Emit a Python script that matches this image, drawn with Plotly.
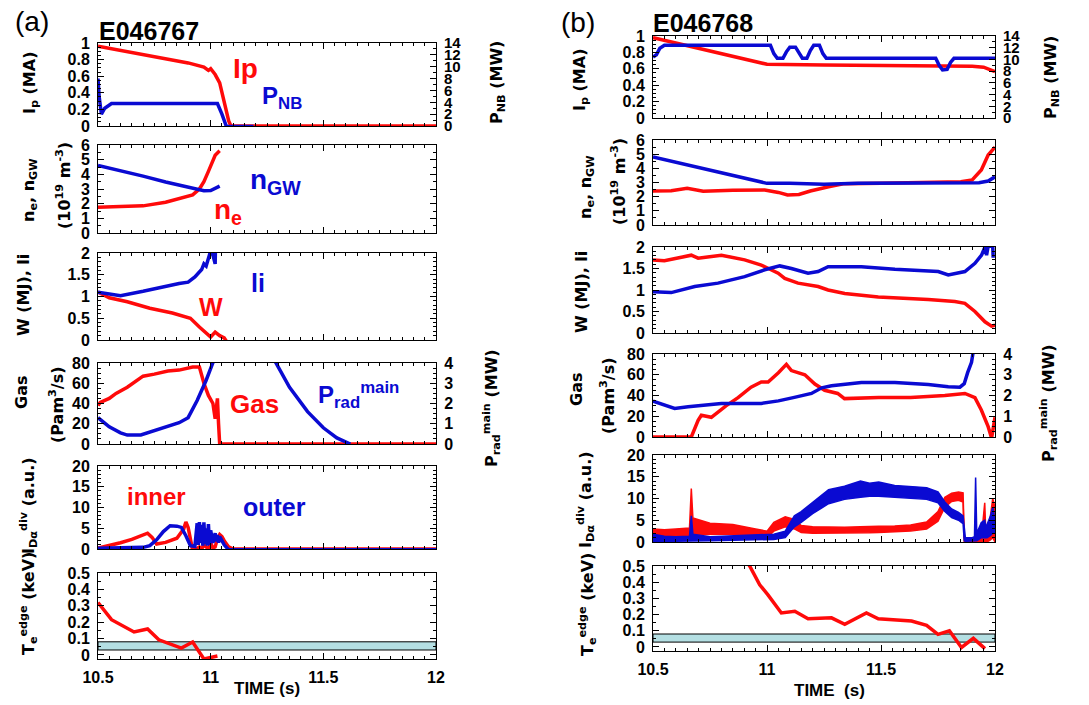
import plotly.graph_objects as go

W, H = 1089, 705
RED = "#ff0a0a"
BLUE = "#0a0ad2"
BAND = "#b4dfe3"
SANS = "Liberation Sans, Arial, sans-serif"
WIDE = "DejaVu Sans, sans-serif"

# ---------------- shot E046767 ----------------
t_ip_a = [10.5, 10.7, 10.9, 10.97, 10.99, 11.0, 11.01, 11.02, 11.04, 11.06, 11.08, 11.09, 12.0]
ip_a = [0.96, 0.86, 0.76, 0.71, 0.67, 0.69, 0.65, 0.62, 0.52, 0.28, 0.06, 0.0, 0.0]
t_pnb_a = [10.5, 10.505, 10.515, 10.53, 10.56, 11.03, 11.05, 11.07, 11.19]
pnb_a = [8.0, 5.0, 2.0, 3.0, 3.8, 3.8, 2.0, -0.1, -0.1]

t_ngw_a = [10.5, 10.6, 10.7, 10.8, 10.9, 10.95, 10.97, 11.0, 11.02, 11.04]
ngw_a = [4.6, 4.25, 3.88, 3.48, 3.1, 2.95, 2.88, 2.9, 3.05, 3.2]
t_ne_a = [10.5, 10.6, 10.7, 10.8, 10.86, 10.92, 10.95, 10.97, 10.99, 11.01, 11.02, 11.04]
ne_a = [1.75, 1.78, 1.85, 2.1, 2.35, 2.6, 3.0, 3.5, 4.2, 4.9, 5.3, 5.6]

t_li_a = [10.5, 10.6, 10.7, 10.8, 10.86, 10.9, 10.93, 10.96, 10.97, 10.98, 10.99, 11.0,
          11.01, 11.02, 11.021]
li_a = [1.1, 1.02, 1.12, 1.24, 1.3, 1.33, 1.45, 1.62, 1.75, 1.7, 1.85, 2.05,
        1.95, 1.75, 2.05]
t_w_a = [10.5, 10.55, 10.63, 10.73, 10.83, 10.91, 10.95, 10.98, 11.0, 11.02, 11.04, 11.06, 11.07]
w_a = [1.1, 0.97, 0.88, 0.73, 0.62, 0.5, 0.3, 0.15, 0.07, 0.18, 0.1, 0.05, -0.03]

t_gas_a = [10.5, 10.51, 10.55, 10.58, 10.63, 10.66, 10.70, 10.75, 10.81, 10.86, 10.92, 10.95,
           10.97, 10.99, 11.01, 11.02, 11.03, 11.035, 11.04, 12.0]
gas_a = [38, 41, 45, 50, 56, 61, 67, 69, 72, 73, 76, 76, 60, 48, 40, 25, 45, 20, 0, 0]
t_prad_a = [10.5, 10.55, 10.6, 10.63, 10.69, 10.75, 10.8, 10.86, 10.9, 10.94, 10.98, 11.01, 11.03,
            None, 11.27, 11.29, 11.35, 11.43, 11.5, 11.56, 11.62]
prad_a = [1.3, 0.85, 0.55, 0.44, 0.45, 0.65, 0.84, 1.05, 1.3, 2.15, 3.15, 4.05, 4.6,
          None, 4.4, 4.0, 2.8, 1.6, 0.8, 0.3, 0.0]

t_inner_a = [10.5, 10.55, 10.6, 10.65, 10.7, 10.72, 10.74, 10.76, 10.8, 10.85, 10.88, 10.89,
             10.9, 10.91, 10.92, 10.93, 10.95, 10.96, 10.97, 10.98, 10.99, 11.0, 11.01, 11.02,
             11.03, 11.04, 11.05, 11.06, 11.08, 11.1, 12.0]
inner_a = [0.2, 0.8, 1.5, 2.3, 3.4, 3.8, 2.8, 1.2, 1.6, 2.6, 4.8, 6.5,
           5.2, 2.0, -0.3, -0.2, 0.5, 0.0, 1.0, 0.5, 0.0, 1.5, 0.2, 0.5,
           2.5, 3.5, 3.0, 2.0, 0.5, 0.0, 0.0]
t_outer_a = [10.5, 10.6, 10.7, 10.73, 10.76, 10.79, 10.82, 10.85, 10.87, 10.89, 10.91, 10.93,
             10.94, 10.945, 10.95, 10.955, 10.96, 10.965, 10.97, 10.975, 10.98, 10.985, 10.99,
             10.995, 11.0, 11.01, 11.02, 11.025, 11.03, 11.035, 11.04, 11.05, 11.06, 11.08, 12.0]
outer_a = [0.2, 0.3, 0.4, 0.8, 2.2, 4.2, 5.6, 5.5, 5.2, 3.2, 0.8, 0.6,
           6.2, 1.0, 6.5, 1.5, 5.8, 0.8, 6.4, 1.2, 5.0, 0.8, 6.0,
           1.0, 4.5, 1.5, 3.8, 1.8, 3.4, 1.5, 3.0, 2.0, 1.0, -0.2, -0.2]

t_te_a = [10.5, 10.56, 10.66, 10.72, 10.77, 10.87, 10.92, 10.97, 11.03]
te_a = [0.32, 0.215, 0.14, 0.158, 0.092, 0.042, 0.079, -0.025, -0.007]

# ---------------- shot E046768 ----------------
t_ip_b = [10.5, 10.75, 11.0, 11.25, 11.5, 11.75, 11.9, 11.95, 11.98, 12.0]
ip_b = [0.98, 0.82, 0.655, 0.645, 0.64, 0.64, 0.63, 0.62, 0.59, 0.565]
t_pnb_b = [10.5, 10.515, 10.53, 10.55, 11.015, 11.03, 11.045, 11.07, 11.085, 11.1, 11.125, 11.14,
           11.155, 11.175, 11.19, 11.205, 11.23, 11.245, 11.26, 11.74, 11.755, 11.77, 11.79,
           11.805, 11.82, 12.0]
pnb_b = [10.4, 10.8, 11.9, 12.4, 12.4, 11.0, 10.2, 10.2, 11.3, 12.1, 12.1, 11.0,
         10.2, 10.2, 11.5, 12.4, 12.4, 11.0, 10.2, 10.2, 9.0, 8.2, 8.3,
         9.5, 10.2, 10.2]

t_ngw_b = [10.5, 10.6, 10.75, 10.9, 11.0, 11.1, 11.25, 11.4, 11.55, 11.7, 11.85, 11.93, 11.97, 12.0]
ngw_b = [4.8, 4.42, 3.85, 3.28, 2.94, 2.94, 2.88, 2.94, 2.94, 2.94, 2.94, 2.98, 3.1, 3.4]
t_ne_b = [10.5, 10.58, 10.65, 10.72, 10.85, 10.99, 11.05, 11.09, 11.14, 11.19, 11.27, 11.34,
          11.5, 11.7, 11.85, 11.9, 11.94, 11.97, 12.0]
ne_b = [2.4, 2.42, 2.6, 2.38, 2.45, 2.47, 2.3, 2.12, 2.15, 2.4, 2.7, 2.92,
        2.95, 3.0, 3.05, 3.18, 3.88, 4.94, 5.5]

t_w_b = [10.5, 10.55, 10.668, 10.698, 10.8, 10.902, 10.975, 11.049, 11.078, 11.136, 11.224,
         11.268, 11.341, 11.488, 11.707, 11.824, 11.868, 11.912, 11.956, 11.985, 12.0]
w_b = [1.7, 1.68, 1.81, 1.74, 1.81, 1.7, 1.58, 1.39, 1.27, 1.16, 1.08,
       1.0, 0.92, 0.84, 0.78, 0.73, 0.69, 0.5, 0.26, 0.16, 0.18]
t_li_b = [10.5, 10.58, 10.683, 10.785, 10.902, 10.99, 11.056, 11.107, 11.18, 11.224, 11.268,
          11.414, 11.561, 11.751, 11.795, 11.868, 11.912, 11.941, 11.956, 11.963, 11.97, 11.99,
          11.992]
li_b = [0.96, 0.94, 1.08, 1.16, 1.31, 1.47, 1.56, 1.5, 1.39, 1.43, 1.54,
        1.54, 1.48, 1.43, 1.35, 1.43, 1.62, 1.81, 2.0, 1.81, 2.02, 2.02,
        1.75]

t_gas_b = [10.5, 10.668, 10.698, 10.712, 10.756, 10.785, 10.82, 10.873, 10.93, 10.975, 11.005,
           11.05, 11.085, 11.107, 11.166, 11.21, 11.253, 11.31, 11.34, 11.49, 11.63, 11.78,
           11.868, 11.912, 11.94, 11.97, 11.985, 12.0]
gas_b = [0, 0, 16, 21, 19, 24, 30, 38, 48, 53, 53,
         62, 70, 64, 60, 51, 45, 42, 37, 38, 38, 40,
         42, 38, 26, 10, -1, 19]
t_prad_b = [10.5, 10.595, 10.654, 10.727, 10.8, 10.975, 11.05, 11.12, 11.195, 11.24, 11.283,
            11.414, 11.561, 11.707, 11.795, 11.846, 11.865, 11.88, 11.897, 11.91]
prad_b = [1.73, 1.38, 1.46, 1.54, 1.62, 1.62, 1.74, 1.91, 2.1, 2.37, 2.47,
          2.63, 2.63, 2.53, 2.42, 2.4, 2.57, 3.1, 3.6, 4.5]

# divertor D-alpha: noisy traces given as lower / upper envelopes
t_div_b = [10.5, 10.55, 10.6, 10.66, 10.668, 10.675, 10.75, 10.85, 10.95, 11.0, 11.03, 11.08,
           11.12, 11.15, 11.2, 11.27, 11.34, 11.41, 11.45, 11.49, 11.56, 11.63, 11.7, 11.75,
           11.78, 11.81, 11.84, 11.86, 11.865, 11.87, 11.9, 11.91, 11.915, 11.92, 11.94,
           11.955, 11.96, 11.965, 11.98, 11.99, 12.0]
inner_lo_b = [0.0, 0.3, 0.3, 0.5, 0.5, 1.5, 1.8, 1.8, 1.2, 1.0, 2.5, 3.5,
              3.0, 2.2, 2.0, 2.0, 2.0, 2.1, 2.1, 2.2, 2.3, 2.5, 3.0, 4.8,
              8.0, 9.3, 9.6, 9.2, 0.0, -0.2, -0.2, -0.2, -0.2, -0.2, -0.2,
              0.0, 0.0, 0.0, 0.5, 1.0, 0.0]
inner_hi_b = [3.0, 2.8, 3.0, 3.2, 12.3, 5.5, 4.3, 4.0, 3.0, 2.5, 4.5, 5.8,
              5.2, 3.8, 3.5, 3.4, 3.4, 3.5, 3.5, 3.6, 3.7, 3.9, 4.6, 7.0,
              10.3, 11.2, 11.5, 11.3, 1.0, 0.6, 0.6, 0.6, 0.6, 0.6, 0.8,
              9.0, 1.5, 1.0, 6.0, 10.0, 8.0]
outer_lo_b = [0.0, 0.0, 0.2, 0.3, 0.3, 0.3, 0.3, 0.4, 0.5, 0.5, 0.6, 1.0,
              3.5, 4.5, 6.5, 8.8, 9.8, 10.3, 10.5, 10.5, 10.3, 10.0, 9.8, 9.0,
              7.0, 5.6, 5.0, 4.2, 0.3, 0.2, 0.2, 0.2, 0.2, 0.3, 1.0,
              1.0, 1.0, 1.0, 1.5, 2.0, 2.0]
outer_hi_b = [1.8, 1.3, 1.2, 1.3, 6.0, 1.8, 1.2, 1.4, 1.5, 1.6, 1.8, 2.5,
              6.0, 7.0, 9.0, 12.0, 12.8, 14.0, 13.5, 13.8, 13.0, 12.8, 12.5, 11.5,
              9.2, 7.6, 6.8, 6.0, 3.0, 1.0, 1.0, 1.2, 14.8, 2.0, 4.5,
              5.0, 3.5, 4.0, 6.0, 8.0, 5.0]

t_te_b = [10.91, 10.924, 10.968, 11.005, 11.063, 11.122, 11.18, 11.283, 11.341, 11.436, 11.488,
          11.634, 11.70, 11.75, 11.80, 11.853, 11.905, 11.956]
te_b = [0.53, 0.5, 0.384, 0.32, 0.21, 0.22, 0.174, 0.18, 0.14, 0.21, 0.174,
        0.16, 0.133, 0.078, 0.1, -0.003, 0.053, -0.01]

# edge temperature reference band (keV)
te_band = [0.03, 0.08]
time_ticks = [10.5, 11, 11.5, 12]

# ---------------- layout geometry (pixels) ----------------
COLS = [(98, 436), (653, 995)]
ROWS = [
    [(43, 126), (145, 233), (253, 340), (363, 444), (466, 549), (573, 659)],
    [(36, 118), (140, 225), (247, 333), (354, 437), (455, 542), (566, 651)],
]
YSPEC = [
    dict(range=[0, 1], dtick=0.2, minor=0.05),
    dict(range=[0, 6], dtick=1, minor=0.5),
    dict(range=[0, 2], dtick=0.5, minor=0.1),
    dict(range=[0, 80], dtick=20, minor=5),
    dict(range=[0, 20], dtick=5, minor=1),
    dict(range=[-0.025, 0.5], dtick=0.1, minor=0.05),
]
SECOND = {(0, 0): 13, (0, 3): 14, (1, 0): 15, (1, 3): 16}
SEC_SPEC = {0: dict(range=[0, 14], dtick=2, minor=1), 3: dict(range=[0, 4], dtick=1, minor=0.25)}


def nm(k):
    return "" if k == 1 else str(k)


def pid(c, r):
    return c * 6 + r + 1


fig = go.Figure()


def line(c, r, t, v, color, sec=False, width=3.5):
    k = pid(c, r)
    yk = SECOND[(c, r)] if sec else k
    fig.add_trace(go.Scatter(x=t, y=v, mode="lines", line=dict(color=color, width=width),
                             xaxis="x" + nm(k), yaxis="y" + nm(yk),
                             showlegend=False, hoverinfo="skip", connectgaps=False))


def band(c, r, t, lo, hi, color):
    k = pid(c, r)
    common = dict(x=t, mode="lines", xaxis="x" + nm(k), yaxis="y" + nm(k),
                  showlegend=False, hoverinfo="skip")
    fig.add_trace(go.Scatter(y=lo, line=dict(color=color, width=1.5), **common))
    fig.add_trace(go.Scatter(y=hi, line=dict(color=color, width=1.5), fill="tonexty",
                             fillcolor=color, **common))


# shot (a)
line(0, 0, t_pnb_a, pnb_a, BLUE, sec=True)
line(0, 0, t_ip_a, ip_a, RED)
line(0, 1, t_ne_a, ne_a, RED)
line(0, 1, t_ngw_a, ngw_a, BLUE)
line(0, 2, t_w_a, w_a, RED)
line(0, 2, t_li_a, li_a, BLUE)
line(0, 3, t_gas_a, gas_a, RED)
line(0, 3, t_prad_a, prad_a, BLUE, sec=True)
line(0, 4, t_inner_a, inner_a, RED)
line(0, 4, t_outer_a, outer_a, BLUE)
line(0, 5, t_te_a, te_a, RED)
# shot (b)
line(1, 0, t_ip_b, ip_b, RED)
line(1, 0, t_pnb_b, pnb_b, BLUE, sec=True)
line(1, 1, t_ne_b, ne_b, RED)
line(1, 1, t_ngw_b, ngw_b, BLUE)
line(1, 2, t_w_b, w_b, RED)
line(1, 2, t_li_b, li_b, BLUE)
line(1, 3, t_gas_b, gas_b, RED)
line(1, 3, t_prad_b, prad_b, BLUE, sec=True)
band(1, 4, t_div_b, inner_lo_b, inner_hi_b, RED)
band(1, 4, t_div_b, outer_lo_b, outer_hi_b, BLUE)
line(1, 5, t_te_b, te_b, RED)

layout = dict(
    template="none",
    width=W, height=H, autosize=False,
    margin=dict(l=0, r=0, t=0, b=0, pad=0, autoexpand=False),
    paper_bgcolor="white", plot_bgcolor="white",
    font=dict(family=SANS, size=16, color="black", weight="bold"),
    showlegend=False,
)

AX = dict(showline=True, linecolor="black", linewidth=1, ticks="inside", ticklen=6,
          tickcolor="black", tickwidth=1, showgrid=False, zeroline=False,
          ticklabelstandoff=4, automargin=False)

shapes = []
for c in range(2):
    x0, x1 = COLS[c]
    for r in range(6):
        k = pid(c, r)
        yt, yb = ROWS[c][r]
        sp = YSPEC[r]
        has_sec = (c, r) in SECOND
        layout["xaxis" + nm(k)] = dict(
            AX, domain=[x0 / W, x1 / W], anchor="y" + nm(k), range=[10.5, 12],
            tickvals=time_ticks, ticktext=["10.5", "11", "11.5", "12"],
            mirror="ticks", showticklabels=(r == 5),
            minor=dict(dtick=0.05, tick0=10.5, ticks="inside", ticklen=3, tickcolor="black"),
        )
        yr = sp["range"]
        layout["yaxis" + nm(k)] = dict(
            AX, domain=[1 - yb / H, 1 - yt / H], anchor="x" + nm(k), range=yr,
            tick0=0, dtick=sp["dtick"], mirror=(True if has_sec else "ticks"),
            minor=dict(dtick=sp["minor"], tick0=0, ticks="inside", ticklen=3, tickcolor="black"),
        )
        if has_sec:
            s = SEC_SPEC[r]
            layout["yaxis" + nm(SECOND[(c, r)])] = dict(
                AX, overlaying="y" + nm(k), anchor="x" + nm(k), side="right",
                range=s["range"], tick0=0, dtick=s["dtick"],
                tickfont=dict(size=15 if r == 0 else 16),
                minor=dict(dtick=s["minor"], tick0=0, ticks="inside", ticklen=3,
                           tickcolor="black"),
            )
    # Te reference band
    k6 = pid(c, 5)
    shapes.append(dict(type="rect", xref="x" + nm(k6), yref="y" + nm(k6),
                       x0=10.5, x1=12, y0=te_band[0], y1=te_band[1],
                       fillcolor=BAND, line=dict(color="black", width=1), layer="below"))
layout["shapes"] = shapes


def ann(x, y, text, size=16, color="black", angle=0, family=SANS, weight="bold",
        xanchor="center", yanchor="middle"):
    return dict(x=x / W, y=1 - y / H, xref="paper", yref="paper", text=text,
                showarrow=False, textangle=angle, xanchor=xanchor, yanchor=yanchor,
                font=dict(family=family, size=size, color=color, weight=weight))


A = []
# panel tags and shot numbers
A.append(ann(32, 21, "(a)", 28, weight="normal"))
A.append(ann(578, 22, "(b)", 28, weight="normal"))
A.append(ann(97, 31, "E046767", 25, xanchor="left"))
A.append(ann(651, 23, "E046768", 25, xanchor="left"))

# trace labels in (a)
A.append(ann(245, 68, "Ip", 28, RED))
A.append(ann(282, 98, "P<sub>NB</sub>", 24, BLUE))
A.append(ann(275, 181, "n<sub>GW</sub>", 28, BLUE))
A.append(ann(228, 211, "n<sub>e</sub>", 28, RED))
A.append(ann(258, 283, "li", 25, BLUE))
A.append(ann(211, 307, "W", 25, RED))
A.append(ann(254, 404, "Gas", 26, RED))
A.append(ann(358, 395, "P<sub>rad</sub><sup>main</sup>", 24, BLUE))
A.append(ann(156, 496, "inner", 24, RED))
A.append(ann(274, 507, "outer", 25, BLUE))

# axis titles (rotated)
TS = 16
titles_left = [
    [(30, 83, "I<sub>p</sub> (MA)"), (30, 190, "n<sub>e</sub>, n<sub>GW</sub>"),
     (64, 186, "(10<sup>19</sup> m<sup>-3</sup>)"), (23, 295, "W (MJ), li"),
     (21, 393, "Gas"), (56, 405, "(Pam<sup>3</sup>/s)"),
     (28, 506, "I<sub>Dα</sub><sup>div</sup> (a.u.)"),
     (28, 604, "T<sub>e</sub><sup>edge</sup> (keV)")],
    [(581, 80, "I<sub>p</sub> (MA)"), (586, 187, "n<sub>e</sub>, n<sub>GW</sub>"),
     (619, 182, "(10<sup>19</sup> m<sup>-3</sup>)"), (582, 292, "W (MJ), li"),
     (576, 390, "Gas"), (607, 396, "(Pam<sup>3</sup>/s)"),
     (585, 500, "I<sub>Dα</sub><sup>div</sup> (a.u.)"),
     (587, 605, "T<sub>e</sub><sup>edge</sup> (keV)")],
]
titles_right = [
    [(497, 83, "P<sub>NB</sub> (MW)"), (492, 408, "P<sub>rad</sub><sup>main</sup> (MW)")],
    [(1052, 78, "P<sub>NB</sub> (MW)"), (1048, 403, "P<sub>rad</sub><sup>main</sup> (MW)")],
]
for c in range(2):
    for x, y, t in titles_left[c] + titles_right[c]:
        A.append(ann(x, y, t, TS, angle=-90, family=WIDE))

A.append(ann(267, 688, "TIME (s)", 17))
A.append(ann(829, 690, "TIME\u00a0 (s)", 17))
layout["annotations"] = A

fig.update_layout(**layout)
fig.write_html("out.html")
